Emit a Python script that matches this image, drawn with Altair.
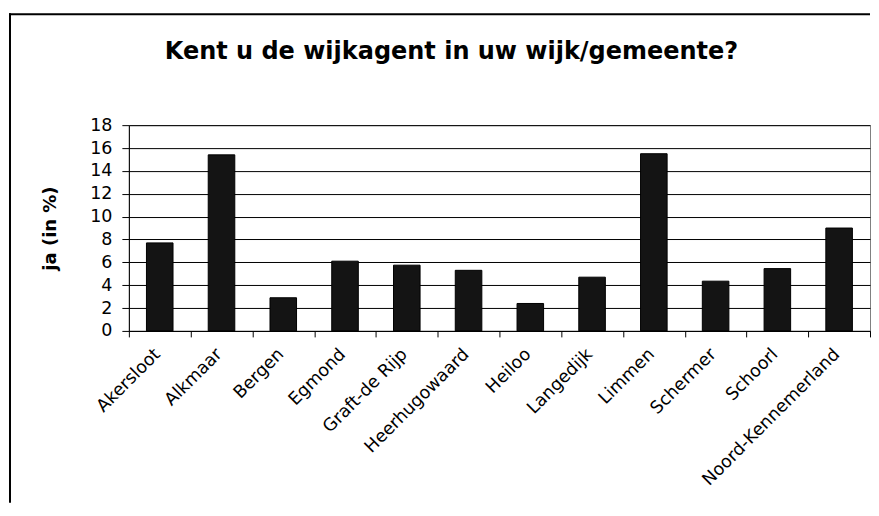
import altair as alt
import pandas as pd

# Data
gemeenten = ["Akersloot", "Alkmaar", "Bergen", "Egmond", "Graft-de Rijp",
             "Heerhugowaard", "Heiloo", "Langedijk", "Limmen", "Schermer",
             "Schoorl", "Noord-Kennemerland"]
ja_pct = [7.7, 15.4, 2.9, 6.1, 5.75, 5.3, 2.4, 4.7, 15.5, 4.35, 5.45, 9.0]
y_ticks = [0, 2, 4, 6, 8, 10, 12, 14, 16, 18]

df = pd.DataFrame({"gemeente": gemeenten, "ja": ja_pct})
FONT = "DejaVu Sans"

bars = alt.Chart(df).mark_bar(
    fill="#141414", stroke="#000000", strokeWidth=1,
    width=alt.RelativeBandSize(0.43)
).encode(
    x=alt.X("gemeente:N", sort=gemeenten,
            scale=alt.Scale(paddingInner=0, paddingOuter=0),
            axis=alt.Axis(title=None, labelAngle=315, labelAlign="right",
                          labelBaseline="top", labelFont=FONT, labelFontSize=17.5,
                          labelColor="#000000", labelPadding=8, labelOffset=-9,
                          labelLimit=400,
                          tickBand="extent", tickSize=6, tickColor="#000000",
                          domainColor="#000000", grid=False)),
    y=alt.Y("ja:Q", scale=alt.Scale(domain=[0, 18], nice=False),
            axis=alt.Axis(values=y_ticks, title="ja (in %)", grid=True,
                          gridColor="#000000", gridWidth=1,
                          domainColor="#000000", tickColor="#000000", tickSize=7,
                          labelFont=FONT, labelFontSize=17.5, labelColor="#000000",
                          labelPadding=10, titleFont=FONT, titleFontSize=18,
                          titleFontWeight="bold", titleColor="#000000",
                          titleAngle=270, titleX=-78, titleY=103,
                          titleBaseline="middle", titleAlign="center"))
)

one = pd.DataFrame({"k": [0]})
frame_top = alt.Chart(one).mark_rule(color="#000000", strokeWidth=2).encode(
    x=alt.value(-120), x2=alt.value(742), y=alt.value(-111))
frame_left = alt.Chart(one).mark_rule(color="#000000", strokeWidth=2).encode(
    x=alt.value(-119), y=alt.value(-112), y2=alt.value(378))

chart = alt.layer(bars, frame_top, frame_left).properties(
    width=742, height=206,
    padding={"left": 0, "top": 4, "right": 0, "bottom": 0},
    title=alt.TitleParams("Kent u de wijkagent in uw wijk/gemeente?",
                          font=FONT, fontSize=24, fontWeight="bold",
                          color="#000000", anchor="middle", dx=-48,
                          offset=-71, baseline="alphabetic"),
    background="#ffffff"
).configure_view(stroke="#808080", strokeWidth=1)

chart.save("out.html", embed_options={"renderer": "svg", "actions": False})
